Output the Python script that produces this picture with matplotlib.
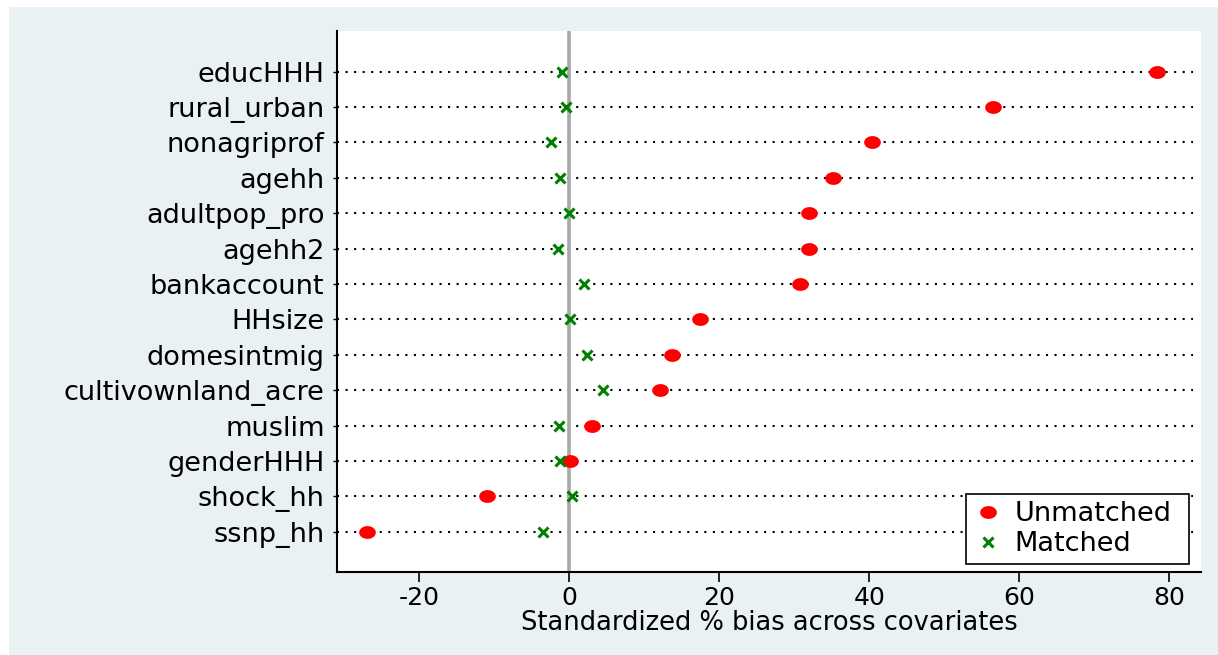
import matplotlib
matplotlib.use("Agg")
import matplotlib.pyplot as plt
import numpy as np
from matplotlib.path import Path
from matplotlib.patches import Rectangle

plt.rcParams['font.family'] = ['DejaVu Sans']

covariates = ["educHHH", "rural_urban", "nonagriprof", "agehh", "adultpop_pro",
              "agehh2", "bankaccount", "HHsize", "domesintmig", "cultivownland_acre",
              "muslim", "genderHHH", "shock_hh", "ssnp_hh"]
unmatched = [78.4, 56.5, 40.4, 35.2, 32.0, 32.0, 30.7, 17.5, 13.7, 12.1, 3.0, 0.1, -11.0, -26.9]
matched = [-1.0, -0.4, -2.4, -1.2, 0.0, -1.5, 2.0, 0.1, 2.4, 4.5, -1.4, -1.2, 0.4, -3.5]
xticks = [-20, 0, 20, 40, 60, 80]

FS = 19.5
FSX = 18
W, H = 1218, 655
fig = plt.figure(figsize=(W / 100, H / 100), dpi=100)
fig.patch.set_facecolor("white")
fig.patches.append(Rectangle((9 / W, 0), 1 - 9 / W, 1 - 7 / H, transform=fig.transFigure,
                             facecolor="#E9F1F3", edgecolor="none", zorder=-10))

left, right, top, bottom = 337, 1201, 31, 572
ax = fig.add_axes([left / W, 1 - bottom / H, (right - left) / W, (bottom - top) / H])
ax.set_zorder(5)
ax.set_facecolor("white")

n = len(covariates)
ypos = np.arange(n, 0, -1)
xmin, xmax = -30.93, 84.2
ax.set_xlim(xmin, xmax)
ax.set_ylim(1 - 1.14, n + 1.15)

for y in ypos:
    ax.plot([xmin, 83.2], [y, y], linestyle=(0, (1, 3.1)), color="black", linewidth=1.5, zorder=1)

ax.axvline(0, color="#A8A8A8", linewidth=2.6, zorder=2)

t = np.linspace(0, 2 * np.pi, 60)
ell = Path(np.column_stack([1.3 * np.cos(t), np.sin(t)]))

ax.plot(unmatched, ypos, linestyle="none", marker=ell, markersize=12, color="#FF0000",
        markeredgewidth=0, label="Unmatched", zorder=4)
ax.plot(matched, ypos, linestyle="none", marker="x", markersize=6.5, markeredgewidth=2.2,
        color="#008000", label="Matched", zorder=5)

ax.set_yticks(ypos)
ax.set_yticklabels(covariates, fontsize=FS)
ax.set_xticks(xticks)
ax.set_xticklabels([str(v) for v in xticks], fontsize=FSX)
ax.tick_params(axis="x", length=7, width=1.2, pad=3)
ax.tick_params(axis="y", length=3, width=1, pad=6)

for s in ["top", "right"]:
    ax.spines[s].set_visible(False)
for s in ["left", "bottom"]:
    ax.spines[s].set_linewidth(1.5)

ax.set_xlabel("Standardized % bias across covariates", fontsize=FSX + 0.5, labelpad=0)

x0 = (966 - left) / (right - left)
w = (1189 - 966) / (right - left)
y0 = (bottom - 564) / (bottom - top)
leg = ax.legend(loc="lower left", bbox_to_anchor=(x0, y0, w, 0.2), mode="expand",
                fontsize=FS, frameon=True, fancybox=False, edgecolor="black", framealpha=1,
                borderpad=0.25, handletextpad=0.45, labelspacing=0.15, handlelength=1.1,
                borderaxespad=0)
leg.get_frame().set_linewidth(1.2)

fig.savefig("out.png", dpi=100, facecolor=fig.get_facecolor())
